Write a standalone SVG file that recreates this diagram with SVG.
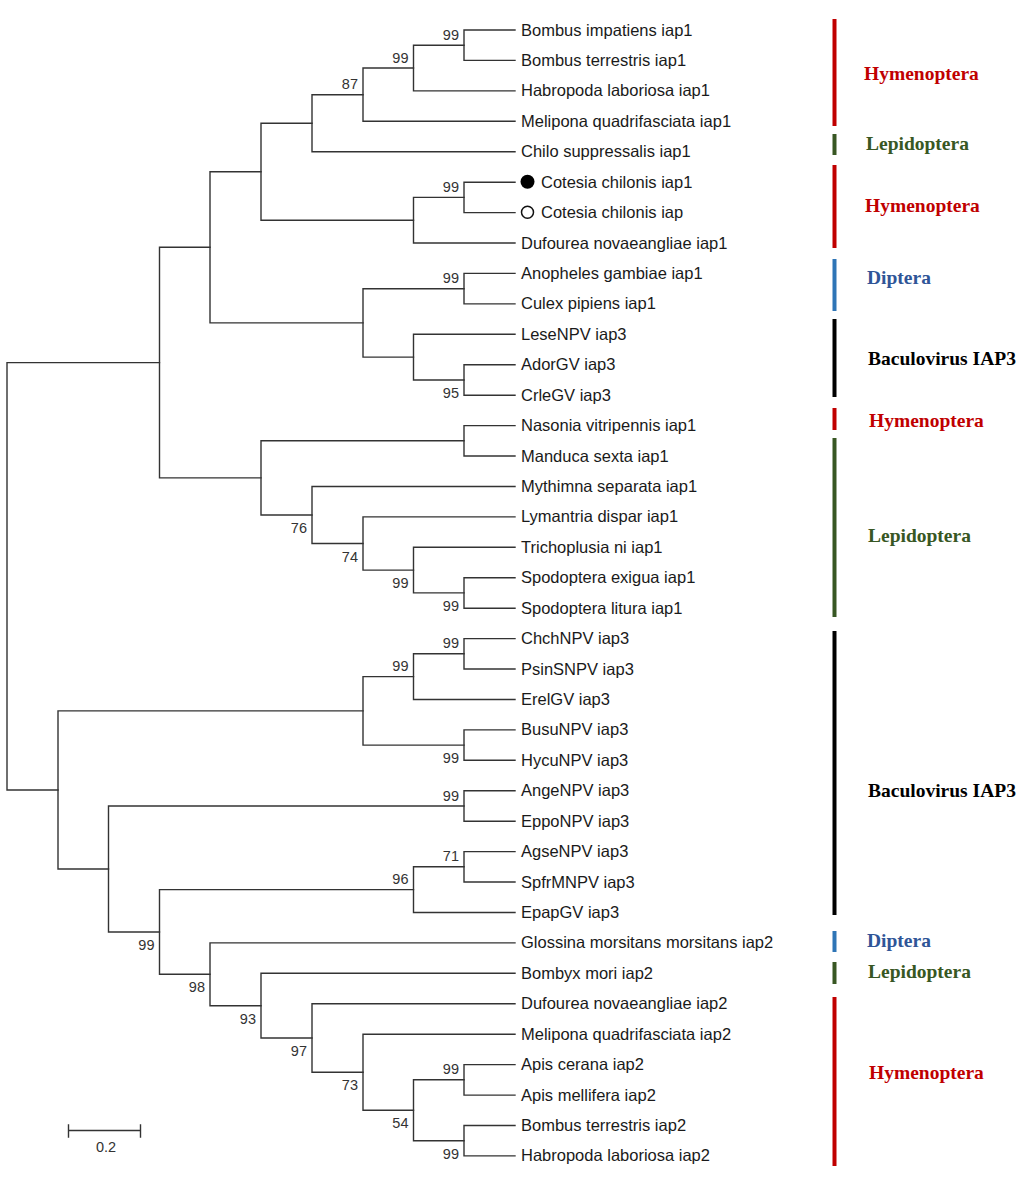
<svg xmlns="http://www.w3.org/2000/svg" width="1024" height="1177" viewBox="0 0 1024 1177">
<style>
.br{fill:none;stroke:#333;stroke-width:1.4;stroke-linecap:square}
.leaf{font-family:"Liberation Sans",Arial,sans-serif;font-size:16.5px;fill:#1a1a1a}
.bs{font-family:"Liberation Sans",Arial,sans-serif;font-size:14.5px;fill:#333;text-anchor:end}
.cl{font-family:"Liberation Serif","Times New Roman",serif;font-size:19.5px;font-weight:bold}
.red{fill:#c00000}.grn{fill:#385723}.blu{fill:#2f5597}.blk{fill:#000}
</style>
<rect width="1024" height="1177" fill="#fff"/>
<g id="connectors" class="br">
<path id="e-root" d="M7,362.6V790M7,362.6H159.5M7,790H58"/>
<path id="e-S" d="M159.5,247.3V477.9M159.5,247.3H210M159.5,477.9H261"/>
<path id="e-L" d="M210,171.7V322.9M210,171.7H261M210,322.9H363"/>
<path id="e-G" d="M261,123.2V220.2M261,123.2H312M261,220.2H413.5"/>
<path id="e-D" d="M312,94.7V151.7M312,94.7H363M312,151.7H515"/>
<path id="e-C" d="M363,68V121.3M363,68H413.5M363,121.3H515"/>
<path id="e-B" d="M413.5,45.2V90.9M413.5,45.2H464M413.5,90.9H515"/>
<path id="e-A" d="M464,30V60.4M464,30H515M464,60.4H515"/>
<path id="e-F" d="M413.5,197.4V243M413.5,197.4H464M413.5,243H515"/>
<path id="e-E" d="M464,182.2V212.6M464,182.2H515M464,212.6H515"/>
<path id="e-K" d="M363,288.7V357.1M363,288.7H464M363,357.1H413.5"/>
<path id="e-H" d="M464,273.4V303.9M464,273.4H515M464,303.9H515"/>
<path id="e-J" d="M413.5,334.3V380M413.5,334.3H515M413.5,380H464"/>
<path id="e-I" d="M464,364.7V395.2M464,364.7H515M464,395.2H515"/>
<path id="e-R" d="M261,440.8V515M261,440.8H464M261,515H312"/>
<path id="e-M" d="M464,425.6V456M464,425.6H515M464,456H515"/>
<path id="e-Q" d="M312,486.5V543.5M312,486.5H515M312,543.5H363"/>
<path id="e-P" d="M363,516.9V570.1M363,516.9H515M363,570.1H413.5"/>
<path id="e-O" d="M413.5,547.3V592.9M413.5,547.3H515M413.5,592.9H464"/>
<path id="e-N" d="M464,577.7V608.2M464,577.7H515M464,608.2H515"/>
<path id="e-JJ" d="M58,710.9V869M58,710.9H363M58,869H108.5"/>
<path id="e-W" d="M363,676.6V745.1M363,676.6H413.5M363,745.1H464"/>
<path id="e-U" d="M413.5,653.8V699.5M413.5,653.8H464M413.5,699.5H515"/>
<path id="e-T" d="M464,638.6V669M464,638.6H515M464,669H515"/>
<path id="e-V" d="M464,729.9V760.3M464,729.9H515M464,760.3H515"/>
<path id="e-AA" d="M108.5,806V932M108.5,806H464M108.5,932H159.5"/>
<path id="e-X" d="M464,790.8V821.2M464,790.8H515M464,821.2H515"/>
<path id="e-BB" d="M159.5,889.6V974.3M159.5,889.6H413.5M159.5,974.3H210"/>
<path id="e-Z" d="M413.5,866.8V912.5M413.5,866.8H464M413.5,912.5H515"/>
<path id="e-Y" d="M464,851.6V882M464,851.6H515M464,882H515"/>
<path id="e-CC" d="M210,942.9V1005.7M210,942.9H515M210,1005.7H261"/>
<path id="e-DD" d="M261,973.3V1038M261,973.3H515M261,1038H312"/>
<path id="e-EE" d="M312,1003.8V1072.2M312,1003.8H515M312,1072.2H363"/>
<path id="e-FF" d="M363,1034.2V1110.3M363,1034.2H515M363,1110.3H413.5"/>
<path id="e-GG" d="M413.5,1079.8V1140.7M413.5,1079.8H464M413.5,1140.7H464"/>
<path id="e-HH" d="M464,1064.6V1095.1M464,1064.6H515M464,1095.1H515"/>
<path id="e-II" d="M464,1125.5V1155.9M464,1125.5H515M464,1155.9H515"/>
</g>
<g id="bootstrap">
<g id="n-A"><text class="bs" x="459" y="39.7">99</text></g>
<g id="n-B"><text class="bs" x="408.5" y="62.5">99</text></g>
<g id="n-C"><text class="bs" x="358" y="89.2">87</text></g>
<g id="n-E"><text class="bs" x="459" y="191.9">99</text></g>
<g id="n-H"><text class="bs" x="459" y="283.2">99</text></g>
<g id="n-I"><text class="bs" x="459" y="398">95</text></g>
<g id="n-N"><text class="bs" x="459" y="610.9">99</text></g>
<g id="n-O"><text class="bs" x="408.5" y="588.1">99</text></g>
<g id="n-P"><text class="bs" x="358" y="561.5">74</text></g>
<g id="n-Q"><text class="bs" x="307" y="533">76</text></g>
<g id="n-T"><text class="bs" x="459" y="648.3">99</text></g>
<g id="n-U"><text class="bs" x="408.5" y="671.1">99</text></g>
<g id="n-V"><text class="bs" x="459" y="763.1">99</text></g>
<g id="n-X"><text class="bs" x="459" y="800.5">99</text></g>
<g id="n-Y"><text class="bs" x="459" y="861.3">71</text></g>
<g id="n-Z"><text class="bs" x="408.5" y="884.1">96</text></g>
<g id="n-BB"><text class="bs" x="154.5" y="950">99</text></g>
<g id="n-CC"><text class="bs" x="205" y="992.3">98</text></g>
<g id="n-DD"><text class="bs" x="256" y="1023.7">93</text></g>
<g id="n-EE"><text class="bs" x="307" y="1056">97</text></g>
<g id="n-FF"><text class="bs" x="358" y="1090.2">73</text></g>
<g id="n-GG"><text class="bs" x="408.5" y="1128.3">54</text></g>
<g id="n-HH"><text class="bs" x="459" y="1074.3">99</text></g>
<g id="n-II"><text class="bs" x="459" y="1158.7">99</text></g>
</g>
<g id="leaves">
<g id="leaf1"><text class="leaf" x="521" y="35.5">Bombus impatiens iap1</text></g>
<g id="leaf2"><text class="leaf" x="521" y="65.9">Bombus terrestris iap1</text></g>
<g id="leaf3"><text class="leaf" x="521" y="96.4">Habropoda laboriosa iap1</text></g>
<g id="leaf4"><text class="leaf" x="521" y="126.8">Melipona quadrifasciata iap1</text></g>
<g id="leaf5"><text class="leaf" x="521" y="157.2">Chilo suppressalis iap1</text></g>
<g id="leaf6"><circle cx="527.5" cy="181.8" r="7" fill="#000"/><text class="leaf" x="541" y="187.7">Cotesia chilonis iap1</text></g>
<g id="leaf7"><circle cx="527.5" cy="212.3" r="6" fill="#fff" stroke="#111" stroke-width="1.5"/><text class="leaf" x="541" y="218.1">Cotesia chilonis iap</text></g>
<g id="leaf8"><text class="leaf" x="521" y="248.5">Dufourea novaeangliae iap1</text></g>
<g id="leaf9"><text class="leaf" x="521" y="278.9">Anopheles gambiae iap1</text></g>
<g id="leaf10"><text class="leaf" x="521" y="309.4">Culex pipiens iap1</text></g>
<g id="leaf11"><text class="leaf" x="521" y="339.8">LeseNPV iap3</text></g>
<g id="leaf12"><text class="leaf" x="521" y="370.2">AdorGV iap3</text></g>
<g id="leaf13"><text class="leaf" x="521" y="400.7">CrleGV iap3</text></g>
<g id="leaf14"><text class="leaf" x="521" y="431.1">Nasonia vitripennis iap1</text></g>
<g id="leaf15"><text class="leaf" x="521" y="461.5">Manduca sexta iap1</text></g>
<g id="leaf16"><text class="leaf" x="521" y="492">Mythimna separata iap1</text></g>
<g id="leaf17"><text class="leaf" x="521" y="522.4">Lymantria dispar iap1</text></g>
<g id="leaf18"><text class="leaf" x="521" y="552.8">Trichoplusia ni iap1</text></g>
<g id="leaf19"><text class="leaf" x="521" y="583.2">Spodoptera exigua iap1</text></g>
<g id="leaf20"><text class="leaf" x="521" y="613.7">Spodoptera litura iap1</text></g>
<g id="leaf21"><text class="leaf" x="521" y="644.1">ChchNPV iap3</text></g>
<g id="leaf22"><text class="leaf" x="521" y="674.5">PsinSNPV iap3</text></g>
<g id="leaf23"><text class="leaf" x="521" y="705">ErelGV iap3</text></g>
<g id="leaf24"><text class="leaf" x="521" y="735.4">BusuNPV iap3</text></g>
<g id="leaf25"><text class="leaf" x="521" y="765.8">HycuNPV iap3</text></g>
<g id="leaf26"><text class="leaf" x="521" y="796.3">AngeNPV iap3</text></g>
<g id="leaf27"><text class="leaf" x="521" y="826.7">EppoNPV iap3</text></g>
<g id="leaf28"><text class="leaf" x="521" y="857.1">AgseNPV iap3</text></g>
<g id="leaf29"><text class="leaf" x="521" y="887.5">SpfrMNPV iap3</text></g>
<g id="leaf30"><text class="leaf" x="521" y="918">EpapGV iap3</text></g>
<g id="leaf31"><text class="leaf" x="521" y="948.4">Glossina morsitans morsitans iap2</text></g>
<g id="leaf32"><text class="leaf" x="521" y="978.8">Bombyx mori iap2</text></g>
<g id="leaf33"><text class="leaf" x="521" y="1009.3">Dufourea novaeangliae iap2</text></g>
<g id="leaf34"><text class="leaf" x="521" y="1039.7">Melipona quadrifasciata iap2</text></g>
<g id="leaf35"><text class="leaf" x="521" y="1070.1">Apis cerana iap2</text></g>
<g id="leaf36"><text class="leaf" x="521" y="1100.6">Apis mellifera iap2</text></g>
<g id="leaf37"><text class="leaf" x="521" y="1131">Bombus terrestris iap2</text></g>
<g id="leaf38"><text class="leaf" x="521" y="1161.4">Habropoda laboriosa iap2</text></g>
</g>
<g id="clades">
<g id="clade1"><rect x="832.5" y="19" width="4" height="107" fill="#c00000"/><text class="cl red" x="864" y="80">Hymenoptera</text></g>
<g id="clade2"><rect x="832.5" y="134" width="4" height="21" fill="#385723"/><text class="cl grn" x="866" y="150">Lepidoptera</text></g>
<g id="clade3"><rect x="832.5" y="165" width="4" height="83" fill="#c00000"/><text class="cl red" x="865" y="211.5">Hymenoptera</text></g>
<g id="clade4"><rect x="832.5" y="259" width="4" height="52" fill="#2e75b6"/><text class="cl blu" x="867" y="284">Diptera</text></g>
<g id="clade5"><rect x="832.5" y="319" width="4" height="78" fill="#000"/><text class="cl blk" x="868" y="365">Baculovirus IAP3</text></g>
<g id="clade6"><rect x="832.5" y="408" width="4" height="22" fill="#c00000"/><text class="cl red" x="869" y="427">Hymenoptera</text></g>
<g id="clade7"><rect x="832.5" y="438" width="4" height="179" fill="#385723"/><text class="cl grn" x="868" y="542">Lepidoptera</text></g>
<g id="clade8"><rect x="832.5" y="631" width="4" height="284" fill="#000"/><text class="cl blk" x="868" y="797">Baculovirus IAP3</text></g>
<g id="clade9"><rect x="832.5" y="931" width="4" height="21" fill="#2e75b6"/><text class="cl blu" x="867" y="947">Diptera</text></g>
<g id="clade10"><rect x="832.5" y="962" width="4" height="22" fill="#385723"/><text class="cl grn" x="868" y="978">Lepidoptera</text></g>
<g id="clade11"><rect x="832.5" y="997" width="4" height="169" fill="#c00000"/><text class="cl red" x="869" y="1079">Hymenoptera</text></g>
</g>
<g id="scalebar">
<path class="br" d="M68.5,1130.5H140.5M68.5,1125V1137M140.5,1125V1137"/>
<text x="106" y="1152" font-family="'Liberation Sans',Arial,sans-serif" font-size="14.5" fill="#333" text-anchor="middle">0.2</text>
</g>
</svg>
